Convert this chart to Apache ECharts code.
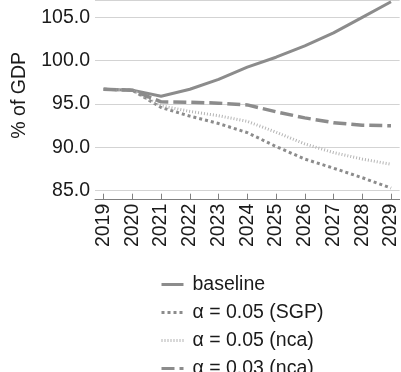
<!DOCTYPE html>
<html>
<head>
<meta charset="utf-8">
<script src="https://cdn.jsdelivr.net/npm/echarts@6/dist/echarts.min.js"></script>
<style>
html,body{margin:0;padding:0;background:#fff;}
#c{width:401px;height:372px;}
</style>
</head>
<body>
<div id="c"></div>
<script>
var years = [2019, 2020, 2021, 2022, 2023, 2024, 2025, 2026, 2027, 2028, 2029];
var baseline = [96.7, 96.6, 95.9, 96.7, 97.85, 99.25, 100.4, 101.7, 103.2, 105.0, 106.8];
var sgp05 = [96.7, 96.6, 94.6, 93.6, 92.75, 91.7, 90.1, 88.65, 87.6, 86.5, 85.3];
var nca05 = [96.7, 96.6, 94.8, 94.15, 93.65, 93.0, 91.75, 90.4, 89.4, 88.65, 88.05];
var nca03 = [96.7, 96.6, 95.25, 95.2, 95.1, 94.9, 94.1, 93.4, 92.85, 92.55, 92.5];
var yTicks = [85, 90, 95, 100, 105];
var names = ['baseline', 'α = 0.05 (SGP)', 'α = 0.05 (nca)', 'α = 0.03 (nca)'];

function pairs(vals) { return years.map(function (y, i) { return [y, vals[i]]; }); }

var font = 'Liberation Sans, Arial, sans-serif';
var txt = '#1a1a1a';
var fs = 19.5;
var chart = echarts.init(document.getElementById('c'), null, {renderer: 'canvas'});
chart.setOption({
  animation: false,
  textStyle: {fontFamily: font},
  grid: {left: 95, right: 0, top: -1.8, bottom: 181.3, containLabel: false},
  xAxis: {
    type: 'value', min: 2018.7, max: 2029.3, offset: 9,
    axisLine: {show: true, lineStyle: {color: '#808080', width: 1}},
    axisTick: {show: true, inside: true, length: 6, customValues: years, lineStyle: {color: '#808080'}},
    axisLabel: {customValues: years, rotate: 90, margin: 4, fontSize: fs, color: txt, fontFamily: font,
      formatter: function (v) { return String(Math.round(v)); }},
    splitLine: {show: false}
  },
  yAxis: {
    type: 'value', min: 85, max: 107,
    name: '% of GDP', nameLocation: 'middle', nameGap: 65,
    nameTextStyle: {fontSize: fs, color: txt, fontFamily: font},
    axisLine: {show: false}, axisTick: {show: false},
    axisLabel: {customValues: yTicks, fontSize: fs, color: txt, margin: 5, fontFamily: font,
      formatter: function (v) { return v.toFixed(1); }},
    splitLine: {show: true, lineStyle: {color: '#d3d3d3', width: 1}}
  },
  legend: {
    orient: 'vertical', left: 160, top: 274.5, height: 130, padding: 0,
    itemWidth: 22, itemHeight: 14, itemGap: 8,
    itemStyle: {opacity: 0},
    lineStyle: {width: 3},
    textStyle: {fontSize: fs, color: txt, fontFamily: font, lineHeight: 19.5, padding: [0, 0, 0, 4]},
    data: names
  },
  series: [
    {name: names[0], type: 'line', data: pairs(baseline), symbol: 'none', color: '#8c8c8c',
      lineStyle: {width: 3, color: '#8c8c8c', type: 'solid'}},
    {name: names[1], type: 'line', data: pairs(sgp05), symbol: 'none', color: '#8c8c8c',
      lineStyle: {width: 3, color: '#8c8c8c', type: [3, 3], cap: 'butt'}},
    {name: names[2], type: 'line', data: pairs(nca05), symbol: 'none', color: '#b4b4b4',
      lineStyle: {width: 3, color: '#b4b4b4', type: [1, 2], cap: 'butt'}},
    {name: names[3], type: 'line', data: pairs(nca03), symbol: 'none', color: '#8c8c8c',
      lineStyle: {width: 3.5, color: '#8c8c8c', type: [13, 5], cap: 'butt'}}
  ]
});
</script>
</body>
</html>
